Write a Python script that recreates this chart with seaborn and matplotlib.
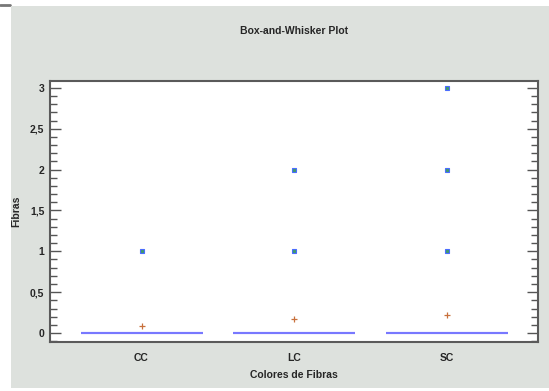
import numpy as np
import pandas as pd
import matplotlib
matplotlib.use('Agg')
import matplotlib.pyplot as plt
import seaborn as sns
from matplotlib.patches import Rectangle
from matplotlib.lines import Line2D
from matplotlib.ticker import MultipleLocator, FuncFormatter

categories = ['CC', 'LC', 'SC']
fibre_values = [0, 1, 2, 3]
# how many samples had each fibre count, per category
counts_cc = [10, 1, 0, 0]
counts_lc = [15, 1, 1, 0]
counts_sc = [24, 1, 1, 1]

title = 'Box-and-Whisker Plot'
xlabel = 'Colores de Fibras'
ylabel = 'Fibras'

rows = []
for cat, cnt in zip(categories, [counts_cc, counts_lc, counts_sc]):
    for v, n in zip(fibre_values, cnt):
        rows += [(cat, v)] * n
df = pd.DataFrame(rows, columns=['color', 'fibras'])

sns.set_style('white')
plt.rcParams['font.family'] = ['Liberation Sans', 'DejaVu Sans']
plt.rcParams['font.weight'] = 'bold'

fig = plt.figure(figsize=(5.49, 3.91), dpi=100, facecolor='white')
fig.patches.append(Rectangle((11 / 549, 1 - 388 / 391), 538 / 549, 382 / 391,
                             transform=fig.transFigure, facecolor='#dde1dd',
                             edgecolor='none', zorder=-5))
fig.lines.append(Line2D([0, 10 / 549], [1 - 5 / 391, 1 - 5 / 391],
                        transform=fig.transFigure, color='#777777', lw=2,
                        zorder=-5))

ax = fig.add_axes([50 / 549, 1 - 342 / 391, 488 / 549, 261 / 391])
ax.set_facecolor('white')

line_col = '#7878ff'
sns.boxplot(data=df, x='color', y='fibras', order=categories, ax=ax,
            width=0.8, color='white', linecolor=line_col, linewidth=1.5,
            showcaps=False, showmeans=True,
            meanprops=dict(marker='+', markeredgecolor='#c8703c',
                           markersize=4, markeredgewidth=0.9),
            flierprops=dict(marker='s', markerfacecolor='#3f9a6a',
                            markeredgecolor='#4a6cff', markersize=2.6,
                            markeredgewidth=0.8))

ax.set_xlim(-0.6, 2.6)
ax.set_ylim(-0.11, 3.085)
ax.yaxis.set_major_locator(MultipleLocator(0.5))
ax.yaxis.set_minor_locator(MultipleLocator(0.1))
ax.yaxis.set_major_formatter(FuncFormatter(lambda v, p: f'{v:g}'.replace('.', ',')))
ax.tick_params(axis='y', which='major', direction='in', length=8, width=1,
               color='#555555', left=True, right=True, labelsize=7.5, pad=4)
ax.tick_params(axis='y', which='minor', direction='in', length=5, width=1,
               color='#555555', left=True, right=True)
ax.tick_params(axis='x', length=0, labelsize=7.5, pad=8)

for s in ax.spines.values():
    s.set_color('#5a5a5a')
    s.set_linewidth(1.5)

ax.set_title(title, fontsize=7.5, fontweight='bold', pad=34)
ax.set_xlabel(xlabel, fontsize=7.5, fontweight='bold', labelpad=5)
ax.set_ylabel(ylabel, fontsize=7.5, fontweight='bold', labelpad=6)

fig.savefig('out.png', dpi=100)
